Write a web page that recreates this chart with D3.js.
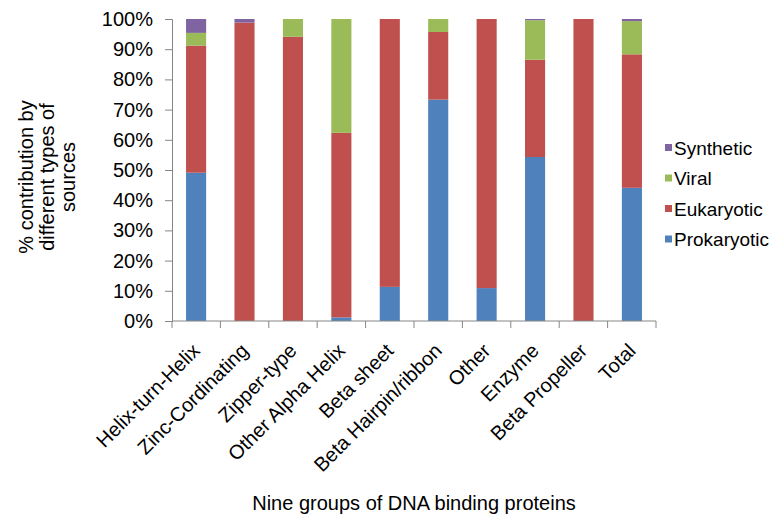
<!DOCTYPE html>
<html>
<head>
<meta charset="utf-8">
<script src="https://cdn.jsdelivr.net/npm/d3@7"></script>
<style>
  html, body { margin: 0; padding: 0; background: #fff; }
  svg { display: block; font-family: "Liberation Sans", Arial, sans-serif; }
</style>
</head>
<body>
<svg id="chart" width="770" height="517"></svg>
<script>
// DNA-binding protein groups and the share of each source type (%)
const categories = ["Helix-turn-Helix", "Zinc-Cordinating", "Zipper-type", "Other Alpha Helix",
  "Beta sheet", "Beta Hairpin/ribbon", "Other", "Enzyme", "Beta Propeller", "Total"];
const prokaryotic = [49.1, 0, 0, 1.2, 11.3, 73.3, 10.9, 54.3, 0, 44.1];
const eukaryotic  = [42.1, 98.8, 94.1, 61.1, 88.7, 22.4, 89.1, 32.2, 100, 44.2];
const viral       = [4.2, 0, 5.9, 37.7, 0, 4.3, 0, 13.1, 0, 11.0];
const synthetic   = [4.6, 1.2, 0, 0, 0, 0, 0, 0.4, 0, 0.7];
const seriesNames = ["Prokaryotic", "Eukaryotic", "Viral", "Synthetic"];
const seriesColors = ["#4F81BD", "#C0504D", "#9BBB59", "#8064A2"];
const yTicks = [0, 10, 20, 30, 40, 50, 60, 70, 80, 90, 100];

const svg = d3.select("#chart");
const margin = { left: 172, right: 114, top: 19, bottom: 196 };
const W = 770, H = 517;
const plotW = W - margin.left - margin.right;
const plotH = H - margin.top - margin.bottom;
const axisColor = "#868686";
const fontSize = 20;

const rows = categories.map((c, i) => ({
  category: c,
  Prokaryotic: prokaryotic[i],
  Eukaryotic: eukaryotic[i],
  Viral: viral[i],
  Synthetic: synthetic[i]
}));

const stack = d3.stack().keys(seriesNames).offset(d3.stackOffsetExpand);
const stacked = stack(rows);

const x = d3.scaleBand().domain(categories).range([0, plotW]).paddingInner(0.585).paddingOuter(0.29);
const y = d3.scaleLinear().domain([0, 1]).range([plotH, 0]);
const color = d3.scaleOrdinal().domain(seriesNames).range(seriesColors);

const g = svg.append("g").attr("transform", `translate(${margin.left},${margin.top})`);

// stacked bars
g.selectAll("g.series")
  .data(stacked)
  .join("g")
  .attr("class", "series")
  .attr("fill", d => color(d.key))
  .selectAll("rect")
  .data(d => d)
  .join("rect")
  .attr("x", d => x(d.data.category))
  .attr("width", x.bandwidth())
  .attr("y", d => y(d[1]))
  .attr("height", d => y(d[0]) - y(d[1]));

// y axis
const yAxis = g.append("g")
  .call(d3.axisLeft(y).tickValues(yTicks.map(v => v / 100)).tickFormat(d => Math.round(d * 100) + "%").tickSize(7).tickPadding(12));
yAxis.select(".domain").attr("stroke", axisColor);
yAxis.selectAll(".tick line").attr("stroke", axisColor);
yAxis.selectAll(".tick text").attr("font-size", fontSize).attr("fill", "#000");

// x axis: ticks sit on the category boundaries
const xAxisG = g.append("g").attr("transform", `translate(0,${plotH})`);
xAxisG.append("line").attr("x1", 0).attr("x2", plotW).attr("stroke", axisColor);
const step = plotW / categories.length;
xAxisG.selectAll("line.tk")
  .data(d3.range(categories.length + 1))
  .join("line")
  .attr("class", "tk")
  .attr("x1", i => i * step).attr("x2", i => i * step)
  .attr("y1", 0).attr("y2", 7)
  .attr("stroke", axisColor);
xAxisG.selectAll("text.lbl")
  .data(categories)
  .join("text")
  .attr("class", "lbl")
  .attr("text-anchor", "end")
  .attr("font-size", fontSize)
  .attr("transform", d => `translate(${x(d) + x.bandwidth() / 2 + 5},${31}) rotate(-45)`)
  .text(d => d);

// axis titles
svg.append("text")
  .attr("x", 414).attr("y", 510)
  .attr("text-anchor", "middle")
  .attr("font-size", fontSize)
  .text("Nine groups of DNA binding proteins");

const yTitle = svg.append("text")
  .attr("transform", "translate(54,177) rotate(-90)")
  .attr("text-anchor", "middle")
  .attr("font-size", fontSize);
["% contribution by", "different types of", "sources"].forEach((t, i) => {
  yTitle.append("tspan").attr("x", 0).attr("y", (i - 1) * 21).text(t);
});

// legend, top entry is the last stacked series
const legend = svg.append("g").attr("transform", "translate(665,148)");
seriesNames.slice().reverse().forEach((name, i) => {
  const row = legend.append("g").attr("transform", `translate(0,${i * 30.5})`);
  row.append("rect").attr("x", 0).attr("y", -4).attr("width", 7).attr("height", 7).attr("fill", color(name));
  row.append("text").attr("x", 9).attr("y", 0).attr("dy", "0.35em").attr("font-size", 19).text(name);
});
</script>
</body>
</html>
